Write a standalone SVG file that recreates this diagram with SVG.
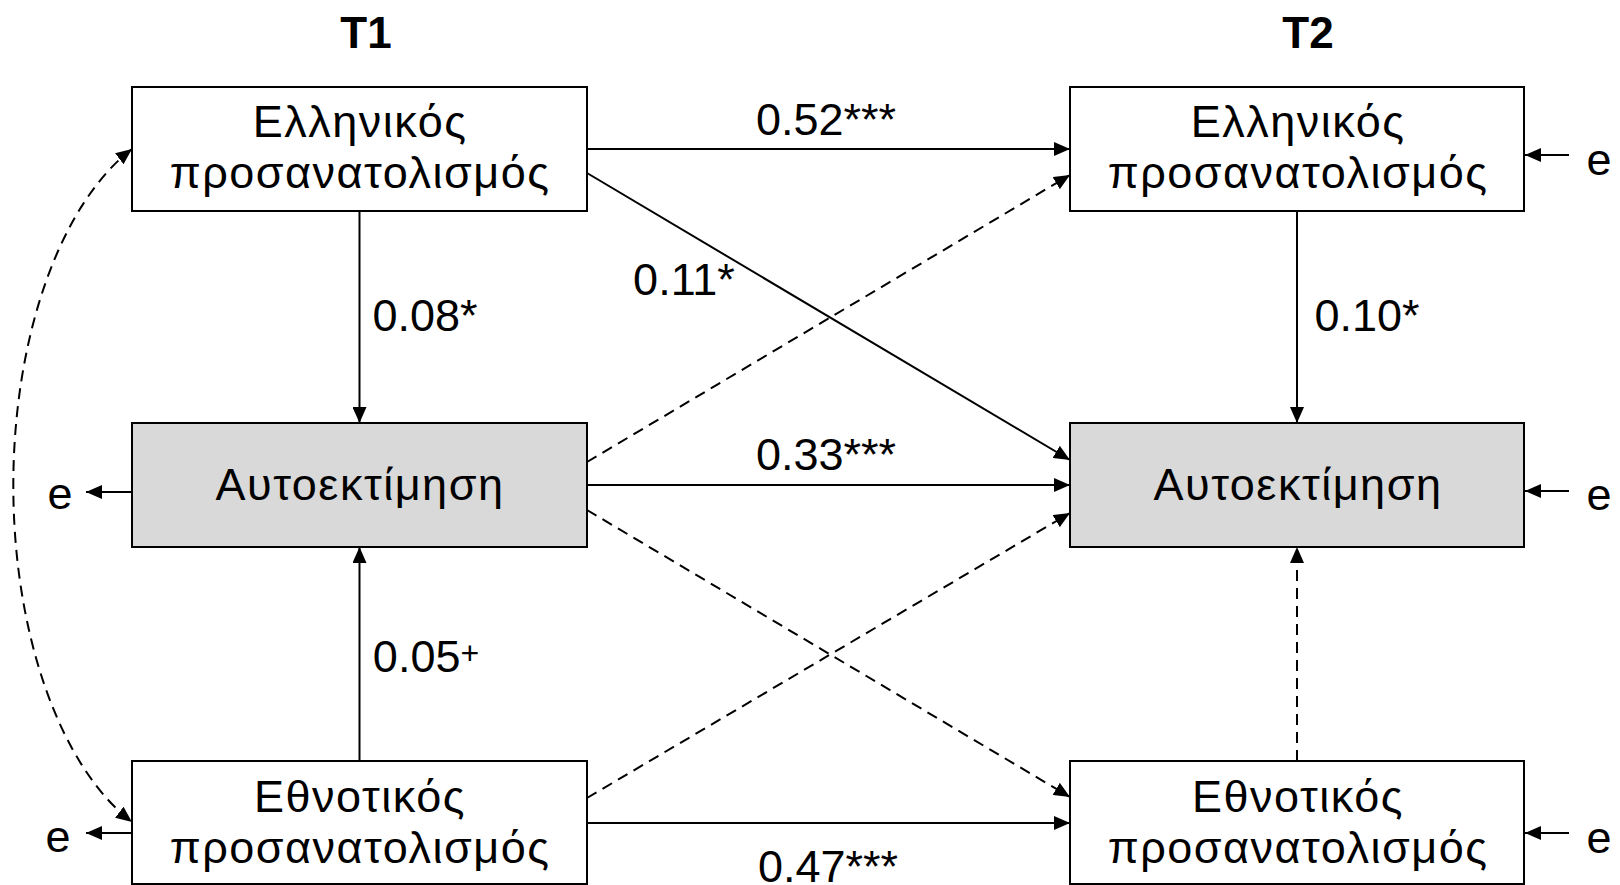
<svg xmlns="http://www.w3.org/2000/svg" width="1620" height="885" viewBox="0 0 1620 885">
<defs>
<marker id="ah" markerUnits="userSpaceOnUse" markerWidth="16" markerHeight="14" refX="16" refY="7" orient="auto-start-reverse" viewBox="0 0 16 14"><path d="M0,0 L16,7 L0,14 z" fill="#000"/></marker>
<style>
.box{fill:#fff;stroke:#000;stroke-width:2}
.grey{fill:#d9d9d9}
.t{font-family:"Liberation Sans",Arial,sans-serif;font-size:45px;fill:#000;text-anchor:middle}
.g{letter-spacing:1.5px}
.hd{font-weight:bold;font-size:44px}
.c{fill:none;stroke:#000;stroke-width:2;marker-end:url(#ah)}
.d{stroke-dasharray:11 7}
.s{marker-start:url(#ah)}
</style>
</defs>
<rect x="0" y="0" width="1620" height="885" fill="#fff"/>
<g id="headers">
<text class="t hd" x="366" y="48">T1</text>
<text class="t hd" x="1308" y="48">T2</text>
</g>
<g id="connectors">
<path class="c" d="M359.5,211 L359.5,423"/>
<path class="c" d="M359.5,761 L359.5,547"/>
<path class="c" d="M1297,211 L1297,423"/>
<path class="c d" d="M1297,761 L1297,547"/>
<path class="c" d="M587,149 L1070,149"/>
<path class="c" d="M587,485 L1070,485"/>
<path class="c" d="M587,823 L1070,823"/>
<path class="c" d="M587,173 L1070,460"/>
<path class="c d" d="M587,462 L1070,175"/>
<path class="c d" d="M587,510 L1070,797"/>
<path class="c d" d="M587,798 L1070,513"/>
<path class="c d s" d="M132,149 A188,362 0 0 0 132,822"/>
<path class="c" d="M132,492 L86,492"/>
<path class="c" d="M132,833 L86,833"/>
<path class="c" d="M1569,155 L1525,155"/>
<path class="c" d="M1569,491 L1525,491"/>
<path class="c" d="M1569,833 L1525,833"/>
</g>
<g id="t1-greek">
<rect class="box" x="132" y="87" width="455" height="124"/>
<text class="t g" x="360" y="137">Ελληνικός</text>
<text class="t g" x="360" y="188">προσανατολισμός</text>
</g>
<g id="t1-selfesteem">
<rect class="box grey" x="132" y="423" width="455" height="124"/>
<text class="t g" x="360" y="500">Αυτοεκτίμηση</text>
</g>
<g id="t1-ethnic">
<rect class="box" x="132" y="761" width="455" height="123"/>
<text class="t g" x="360" y="812">Εθνοτικός</text>
<text class="t g" x="360" y="863">προσανατολισμός</text>
</g>
<g id="t2-greek">
<rect class="box" x="1070" y="87" width="454" height="124"/>
<text class="t g" x="1298" y="137">Ελληνικός</text>
<text class="t g" x="1298" y="188">προσανατολισμός</text>
</g>
<g id="t2-selfesteem">
<rect class="box grey" x="1070" y="423" width="454" height="124"/>
<text class="t g" x="1298" y="500">Αυτοεκτίμηση</text>
</g>
<g id="t2-ethnic">
<rect class="box" x="1070" y="761" width="454" height="123"/>
<text class="t g" x="1298" y="812">Εθνοτικός</text>
<text class="t g" x="1298" y="863">προσανατολισμός</text>
</g>
<g id="errors">
<text class="t" x="60" y="509">e</text>
<text class="t" x="58" y="852">e</text>
<text class="t" x="1599" y="175">e</text>
<text class="t" x="1599" y="510">e</text>
<text class="t" x="1599" y="853">e</text>
</g>
<g id="labels">
<text class="t" x="826" y="135">0.52***</text>
<text class="t" x="684" y="295">0.11*</text>
<text class="t" x="826" y="470">0.33***</text>
<text class="t" x="828" y="882">0.47***</text>
<text class="t" x="425" y="331">0.08*</text>
<text class="t" x="1367" y="331">0.10*</text>
<text class="t" x="426" y="672">0.05<tspan font-size="32" dy="-8">+</tspan></text>
</g>
</svg>
